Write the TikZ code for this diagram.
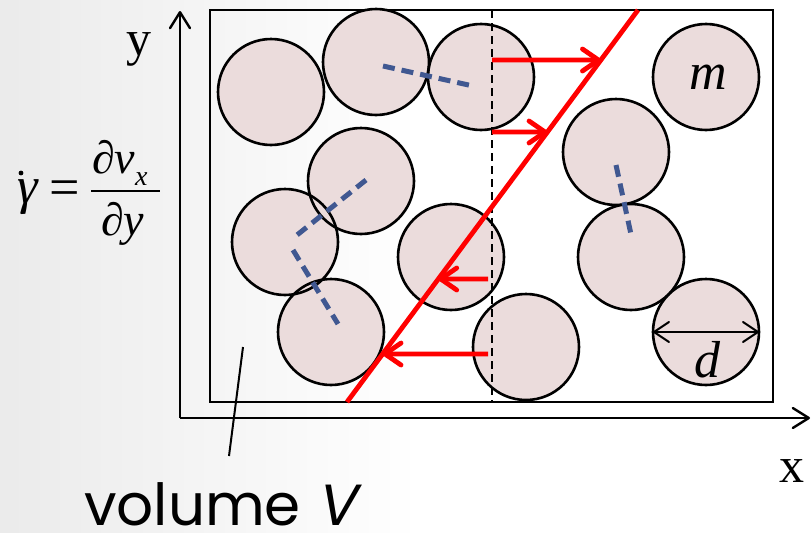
\documentclass[tikz,border=0pt]{standalone}
\usepackage{fontspec}
\setmainfont{Liberation Serif}
\newfontfamily\volfont{Poppins}
\newfontfamily\volfontsl[FakeSlant=0.2]{Poppins}
\usetikzlibrary{arrows.meta,calc}
\definecolor{ballfill}{RGB}{235,220,220}
\definecolor{chainblue}{RGB}{64,88,145}
\definecolor{shearred}{RGB}{255,0,0}
\tikzset{
  ball/.style={circle,minimum size=106pt,inner sep=0pt,fill=ballfill},
  outline/.style={draw=black,line width=2.6pt},
  frame/.style={draw=black,line width=2.6pt},
  axis/.style={line width=2.4pt,-{Straight Barb[length=16pt,width=20pt,round]}},
  chain/.style={draw=chainblue,line width=5pt,dash pattern=on 12pt off 7pt},
  redline/.style={draw=shearred,line width=4.8pt},
  redarrow/.style={draw=shearred,line width=4.8pt,-{Straight Barb[length=16pt,width=22pt,round]}},
  lbl/.style={inner sep=0pt,anchor=base},
}
\begin{document}
\begin{tikzpicture}[x=1pt,y=-1pt]
\useasboundingbox (0,0) rectangle (812,533);
\fill[white] (0,0) rectangle (812,533);
\shade[left color=black!8,right color=white] (0,0) rectangle (420,533);
% frame (volume)
\draw[frame] (210,10) rectangle (773,402);
% axes
\coordinate (O) at (180,418);
\coordinate (ytip) at (180,11);
\coordinate (xtip) at (810,418);
\draw[axis] (O) -- (ytip);
\draw[axis] (O) -- (xtip);
% balls (fill)
\node[ball] (c1) at (271,92) {};
\node[ball] (c2) at (376,62) {};
\node[ball] (c3) at (481,77) {};
\node[ball] (c4) at (706,77) {};
\node[ball] (c5) at (616,152) {};
\node[ball] (c6) at (631,257) {};
\node[ball] (c7) at (706,332) {};
\node[ball] (c8) at (526,347) {};
\node[ball] (c9) at (451,257) {};
\node[ball] (c10) at (331,332) {};
\node[ball] (c11) at (285,242) {};
\node[ball] (c12) at (361,181) {};
% outlines
\foreach \i in {1,...,12} {\draw[outline] (c\i.center) circle[radius=53pt];}
% dashed vertical line
\coordinate (vt) at (492,10);
\coordinate (vb) at (492,402);
\draw[line width=2pt,dash pattern=on 8pt off 5pt] (vt) -- (vb);
% contact chains
\draw[chain] (383,66) -- (473,86);
\draw[chain] (366,180) -- (292,239);
\draw[chain] (293,250) -- (338,324);
\draw[chain] (616,165) -- (632,239);
% shear profile
\coordinate (st) at (638,10);
\coordinate (sb) at (347,402);
\draw[redline] (st) -- (sb);
\coordinate (a1s) at (492,60);  \coordinate (a1e) at ($(st)!0.1276!(sb)$);
\coordinate (a2s) at (492,132); \coordinate (a2e) at ($(st)!0.3112!(sb)$);
\coordinate (a3s) at (488,279); \coordinate (a3e) at ($(st)!0.6862!(sb)$);
\coordinate (a4s) at (488,354); \coordinate (a4e) at ($(st)!0.8776!(sb)$);
\draw[redarrow] (a1s) -- (a1e);
\draw[redarrow] (a2s) -- (a2e);
\draw[redarrow] (a3s) -- (a3e);
\draw[redarrow] (a4s) -- (a4e);
% diameter
\coordinate (dl) at (653,332);
\coordinate (dr) at (759,332);
\draw[line width=2pt,{Straight Barb[length=15pt,width=20pt,round]}-{Straight Barb[length=15pt,width=20pt,round]}] (dl) -- (dr);
% labels
\node[lbl] (m) at (708,89) {\fontsize{52}{52}\selectfont\itshape m};
\node[lbl] (d) at (707,377) {\fontsize{52}{52}\selectfont\itshape d};
\node[lbl] (ylab) at (139,55) {\fontsize{50}{50}\selectfont y};
\node[lbl] (xlab) at (792,482) {\fontsize{50}{50}\selectfont x};
% formula
\node[lbl] (gam) at (28,203) {\fontsize{52}{52}\selectfont\itshape γ};
\fill (21,173) circle (2.4pt);
\node[lbl] (eq) at (65,205) {\fontsize{54}{54}\selectfont =};
\draw[line width=1.8pt] (91,191) -- (160,191);
\node[lbl,anchor=base west] (num) at (92,173) {\fontsize{46}{46}\selectfont\itshape ∂v};
\node[lbl,anchor=base west] (sub) at (135,185) {\fontsize{28}{28}\selectfont\itshape x};
\node[lbl,anchor=base west] (den) at (101,235) {\fontsize{46}{46}\selectfont\itshape ∂y};
% volume label
\node[lbl,anchor=base west] (vol) at (84,525) {\fontsize{58}{58}\selectfont\volfont volume {\volfontsl V}};
\coordinate (pt) at (243,347);
\coordinate (pb) at (229,456);
\draw[line width=2pt] (pt) -- (pb);
\end{tikzpicture}
\end{document}
